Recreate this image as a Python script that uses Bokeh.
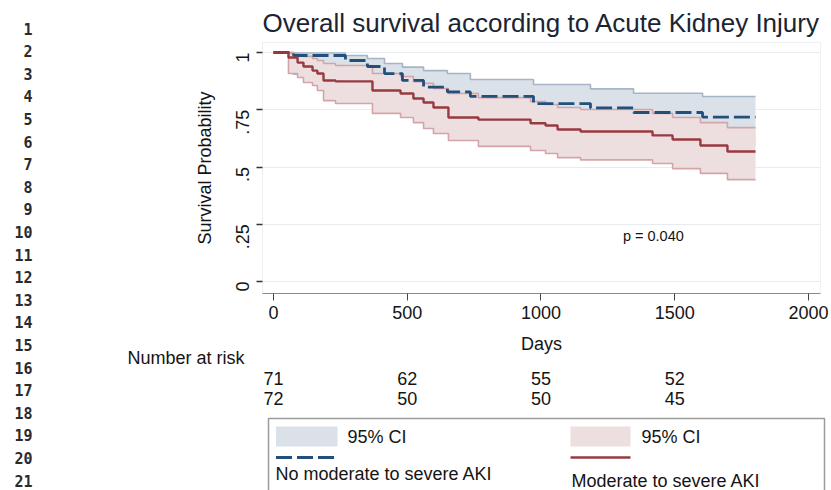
import math
from bokeh.plotting import figure
from bokeh.models import Range1d, FixedTicker
from bokeh.core.properties import value
from bokeh.embed import file_html
from bokeh.resources import INLINE

# ---------------- data ----------------
title = "Overall survival according to Acute Kidney Injury"

# No moderate to severe AKI (Kaplan-Meier, step times in days)
no_aki_days = [0, 75, 269, 351, 415, 482, 561, 650, 736, 972, 1185, 1346, 1604]
no_aki_surv = [1.0, 0.987, 0.965, 0.939, 0.908, 0.878, 0.849, 0.828, 0.808, 0.777, 0.758, 0.738, 0.718]
no_aki_upper = [1.0, 0.998, 0.987, 0.974, 0.952, 0.936, 0.921, 0.908, 0.882, 0.860, 0.841, 0.822, 0.808]
no_aki_lower = [1.0, 0.905, 0.870, 0.840, 0.800, 0.770, 0.740, 0.715, 0.690, 0.660, 0.640, 0.620, 0.600]

# Moderate to severe AKI
aki_days = [0, 56, 90, 112, 146, 164, 187, 232, 370, 475, 523, 561, 598, 654, 766, 961, 1017, 1062,
            1148, 1417, 1492, 1596, 1697]
aki_surv = [1.0, 0.978, 0.956, 0.939, 0.921, 0.908, 0.878, 0.874, 0.834, 0.821, 0.799, 0.782, 0.760,
            0.716, 0.707, 0.691, 0.681, 0.664, 0.655, 0.638, 0.620, 0.594, 0.568]
aki_upper = [1.0, 0.996, 0.991, 0.983, 0.974, 0.965, 0.952, 0.943, 0.908, 0.895, 0.873, 0.865, 0.843,
             0.821, 0.803, 0.786, 0.773, 0.760, 0.751, 0.734, 0.716, 0.694, 0.672]
aki_lower = [1.0, 0.908, 0.891, 0.869, 0.856, 0.834, 0.790, 0.777, 0.734, 0.716, 0.694, 0.668, 0.646,
             0.616, 0.590, 0.572, 0.559, 0.541, 0.531, 0.515, 0.493, 0.472, 0.445]

follow_up_end = 1802

risk_times = [0, 500, 1000, 1500]
risk_no_aki = ["71", "62", "55", "52"]
risk_aki = ["72", "50", "50", "45"]

x_ticks = [0, 500, 1000, 1500, 2000]
y_ticks = [0, 0.25, 0.5, 0.75, 1]
y_tick_labels = ["0", ".25", ".5", ".75", "1"]

p_value_text = "p = 0.040"
p_value_pos = (1420, 0.197)

legend_labels = ["No moderate to severe AKI", "Moderate to severe AKI"]
ci_label = "95% CI"
line_numbers = [str(i) for i in range(1, 22)]

# ---------------- style ----------------
FONT = "Liberation Sans"
BLUE_LINE = "#22507a"
BLUE_FILL = "#dbe1e8"
BLUE_EDGE = "#a6b5c5"
RED_LINE = "#983a40"
RED_FILL = "#eddfe0"
RED_EDGE = "#d4a5a8"
TEXT = "#141414"

# frame placement on the canvas (pixels)
FL, FR, FT, FB = 262, 820, 42, 293
W, H = 831, 490


def steps(t, v, end):
    xs, ys = [], []
    for i in range(len(t)):
        nxt = t[i + 1] if i + 1 < len(t) else end
        xs += [t[i], nxt]
        ys += [v[i], v[i]]
    return xs, ys


p = figure(width=W, height=H, output_backend="svg", toolbar_location=None,
           x_range=Range1d(-41.1, 2044.9), y_range=Range1d(-0.0524, 1.0437),
           min_border_left=FL, min_border_right=W - FR, min_border_top=FT,
           min_border_bottom=H - FB)
p.background_fill_color = "white"
p.border_fill_color = "white"
p.outline_line_color = "#edf1f4"

p.extra_x_ranges = {"px": Range1d(FL, FR)}
p.extra_y_ranges = {"py": Range1d(FB, FT)}

# grid
p.xgrid.grid_line_color = None
p.ygrid.ticker = FixedTicker(ticks=y_ticks)
p.ygrid.grid_line_color = "#e6ecf0"
p.ygrid.grid_line_width = 1.2

# x axis
xa = p.xaxis[0]
xa.ticker = FixedTicker(ticks=x_ticks)
xa.axis_line_color = "#8a8a8a"
xa.axis_line_width = 1.2
xa.major_tick_out = 7
xa.major_tick_in = 0
xa.major_tick_line_color = "#444444"
xa.minor_tick_line_color = None
xa.major_label_text_font = FONT
xa.major_label_text_font_size = "18px"
xa.major_label_text_color = TEXT
xa.major_label_standoff = 5
xa.axis_label = "Days"
xa.axis_label_text_font = FONT
xa.axis_label_text_font_size = "18px"
xa.axis_label_text_font_style = "normal"
xa.axis_label_text_color = TEXT
xa.axis_label_standoff = 12

# y axis
ya = p.yaxis[0]
ya.ticker = FixedTicker(ticks=y_ticks)
ya.major_label_overrides = {t: l for t, l in zip(y_ticks, y_tick_labels)}
ya.axis_line_color = None
ya.major_tick_out = 6
ya.major_tick_in = 0
ya.major_tick_line_color = "#333333"
ya.major_tick_line_width = 1.5
ya.minor_tick_line_color = None
ya.major_label_orientation = math.pi / 2
ya.major_label_text_font = FONT
ya.major_label_text_font_size = "18px"
ya.major_label_text_color = TEXT
ya.major_label_standoff = 14
ya.axis_label = "Survival Probability"
ya.axis_label_text_font = FONT
ya.axis_label_text_font_size = "18px"
ya.axis_label_text_font_style = "normal"
ya.axis_label_text_color = TEXT
ya.axis_label_standoff = 12

# ---------------- curves ----------------
bx, bl = steps(no_aki_days, no_aki_lower, follow_up_end)
_, bu = steps(no_aki_days, no_aki_upper, follow_up_end)
_, bs = steps(no_aki_days, no_aki_surv, follow_up_end)
rx, rl = steps(aki_days, aki_lower, follow_up_end)
_, ru = steps(aki_days, aki_upper, follow_up_end)
_, rs = steps(aki_days, aki_surv, follow_up_end)

p.varea(x=bx, y1=bl, y2=bu, fill_color=BLUE_FILL, fill_alpha=1)
p.line(bx, bu, line_color=BLUE_EDGE, line_width=1.6)
p.line(bx, bl, line_color=BLUE_EDGE, line_width=1.6)
p.varea(x=rx, y1=rl, y2=ru, fill_color=RED_FILL, fill_alpha=1)
p.line(rx, ru, line_color=RED_EDGE, line_width=1.6)
p.line(rx, rl, line_color=RED_EDGE, line_width=1.6)
p.line(bx, bs, line_color=BLUE_LINE, line_width=2.8, line_dash="16 5")
p.line(rx, rs, line_color=RED_LINE, line_width=2.4)

p.text(x=[p_value_pos[0]], y=[p_value_pos[1]], text=[p_value_text],
       text_font=value(FONT), text_font_size="14.5px", text_color=TEXT,
       text_align="center", text_baseline="middle")

# ---------------- texts outside the frame (pixel ranges) ----------------
ann = dict(x_range_name="px", y_range_name="py", level="annotation")

p.text(x=[(FL + FR) / 2], y=[22], text=[title], text_font=value(FONT),
       text_font_size="26px", text_color="#1b2433", text_align="center",
       text_baseline="middle", **ann)

ln_y = [28 + 22.6 * i for i in range(len(line_numbers))]
p.text(x=[32] * len(line_numbers), y=ln_y, text=line_numbers,
       text_font=value("DejaVu Sans Mono"), text_font_style="bold",
       text_font_size="15px", text_color="#2b2b2b", text_align="right",
       text_baseline="middle", **ann)

p.text(x=[127], y=[357], text=["Number at risk"], text_font=value(FONT),
       text_font_size="18px", text_color=TEXT, text_align="left",
       text_baseline="middle", **ann)

risk_kw = dict(y_range_name="py", level="annotation", text_font=value(FONT),
               text_font_size="18px", text_color=TEXT, text_align="center",
               text_baseline="middle")
p.text(x=risk_times, y=[378] * len(risk_times), text=risk_no_aki, **risk_kw)
p.text(x=risk_times, y=[398] * len(risk_times), text=risk_aki, **risk_kw)

# legend box
p.quad(left=[268], right=[824], top=[418], bottom=[520], fill_color="white",
       line_color="#9c9c9c", line_width=1.5, **ann)
p.quad(left=[275.5, 570], right=[337, 630], top=[426, 426], bottom=[446, 446],
       fill_color=[BLUE_FILL, RED_FILL], line_color=None, **ann)
p.text(x=[347, 641], y=[436, 436], text=[ci_label, ci_label], text_font=value(FONT),
       text_font_size="18px", text_color=TEXT, text_align="left",
       text_baseline="middle", **ann)
p.line([275.5, 337], [457, 457], line_color=BLUE_LINE, line_width=2.8,
       line_dash="16 5", **ann)
p.line([570, 630], [457, 457], line_color=RED_LINE, line_width=2.4, **ann)
p.text(x=[275, 571], y=[473, 480], text=legend_labels, text_font=value(FONT),
       text_font_size="18px", text_color=TEXT, text_align="left",
       text_baseline="middle", **ann)

open("out.html", "w").write(file_html(p, INLINE))
